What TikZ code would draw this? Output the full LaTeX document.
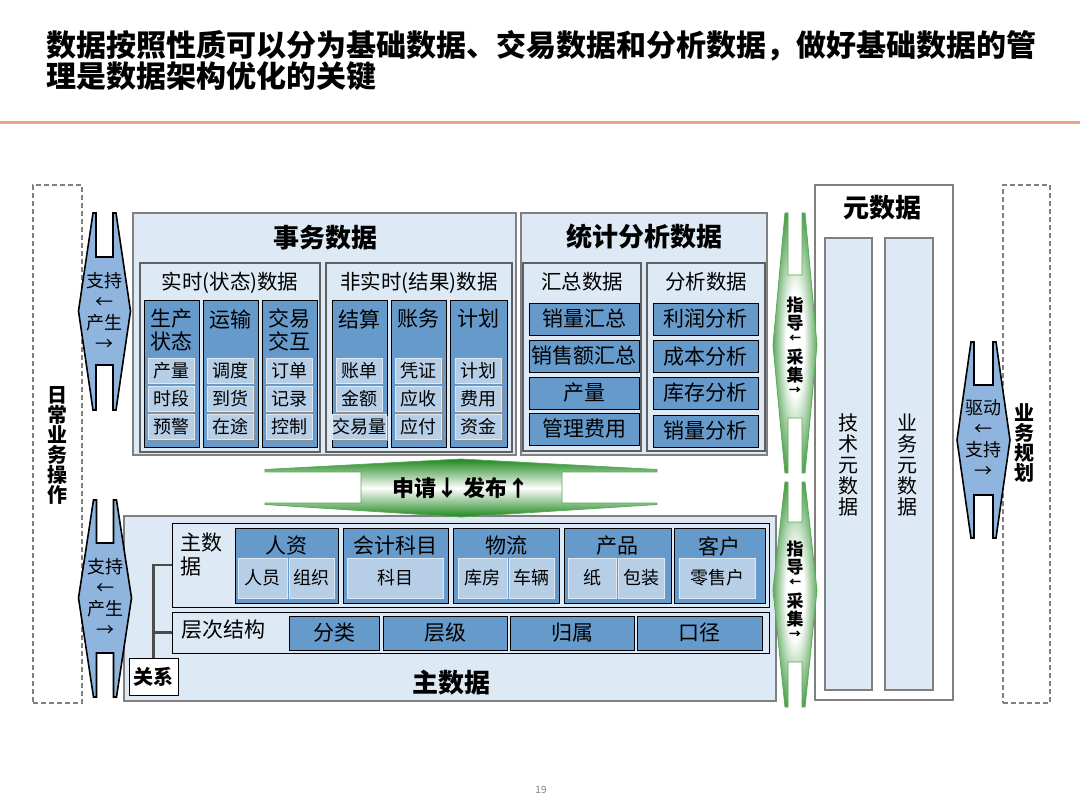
\documentclass[tikz,border=0pt]{standalone}
\usepackage{fontspec}
\setmainfont{Noto Sans CJK SC}
\usetikzlibrary{shadows}

\definecolor{paleblue}{RGB}{221,233,245}
\definecolor{midblue}{RGB}{101,154,203}
\definecolor{lightblue}{RGB}{182,206,230}
\definecolor{arrowblue}{RGB}{143,181,222}
\definecolor{arrowgreen}{RGB}{30,135,30}
\definecolor{linegreen}{RGB}{90,170,90}
\definecolor{boxgray}{RGB}{128,128,128}
\definecolor{rulecolor}{RGB}{242,163,135}

\newcommand{\fsz}[1]{\fontsize{#1}{#1}\selectfont}

% soft glow for the vertical green arrows
\pgfdeclareradialshading{greenglow}{\pgfpoint{0bp}{0bp}}{color(0bp)=(white); color(10bp)=(white); color(31bp)=(arrowgreen); color(50bp)=(arrowgreen)}

% notched double arrow: style, cx, top, notch1, mid, notch2, bottom, half width, notch half width
\newcommand{\vnotch}[9]{\draw[#1] (#2-#9-3,#3) -- (#2-#8,#5) -- (#2-#9-3,#7) -- (#2-#9,#7) -- (#2-#9,#6) -- (#2+#9,#6) -- (#2+#9,#7) -- (#2+#9+3,#7) -- (#2+#8,#5) -- (#2+#9+3,#3) -- (#2+#9,#3) -- (#2+#9,#4) -- (#2-#9,#4) -- (#2-#9,#3) -- cycle;}

\tikzset{
  wh/.style 2 args={minimum width=#1pt,minimum height=#2pt},
  outerbox/.style={draw=boxgray,line width=1.6pt,fill=paleblue,inner sep=0pt},
  groupbox/.style={draw=gray!75!black,line width=1.2pt,fill=paleblue,inner sep=0pt},
  innerbox/.style={draw=black,line width=0.9pt,fill=paleblue,inner sep=0pt},
  colbox/.style={draw=black,line width=0.9pt,fill=midblue,inner sep=0pt},
  itembox/.style={colbox,font=\fsz{21}},
  subbox/.style={fill=lightblue,draw=white!55!lightblue,line width=0.8pt,inner sep=0pt,font=\fsz{18},
    drop shadow={shadow xshift=1.3pt,shadow yshift=-1.3pt,fill=black!45,opacity=1}},
  dashbox/.style={draw=boxgray,line width=1.3pt,dash pattern=on 5pt off 3pt},
  bluearrow/.style={fill=arrowblue,draw=black,line width=1.6pt},
  greenv/.style={shading=greenglow,draw=linegreen,line width=0.8pt},
  greenh/.style={top color=arrowgreen,bottom color=arrowgreen,middle color=white,draw=linegreen,line width=0.8pt},
  heading/.style={font=\bfseries\fsz{26}},
  grouptitle/.style={font=\fsz{20.5}},
  vtext/.style={align=center,inner sep=0pt},
  linkline/.style={draw=black!70,line width=2.2pt}
}

\begin{document}
\begin{tikzpicture}[x=1pt,y=-1pt]

\fill[white] (0,0) rectangle (1080,810);
\useasboundingbox (0,0) rectangle (1080,810);

% Title
\node[anchor=west,font=\bfseries\fsz{30}] (title1) at (43,46) {数据按照性质可以分为基础数据、交易数据和分析数据，做好基础数据的管};
\node[anchor=west,font=\bfseries\fsz{30}] (title2) at (43,76) {理是数据架构优化的关键};
\draw[rulecolor,line width=2.5pt] (0,122.5) -- (1080,122.5);

% Side frames
\node[dashbox,wh={49}{518}] (daily) at (57.5,444) {};
\node[vtext,font=\bfseries\fsz{20}] (dailytext) at (57,445) {日\\常\\业\\务\\操\\作};
\node[dashbox,wh={47}{518}] (plan) at (1026.5,444) {};
\node[vtext,font=\bfseries\fsz{20}] (plantext) at (1024,443) {业\\务\\规\\划};

% Transaction data
\node[outerbox,wh={383}{242}] (trans) at (324.5,334) {};
\node[heading] (transtitle) at (325,238) {事务数据};
\node[groupbox,wh={180}{189}] (realtime) at (230,357.5) {};
\node[grouptitle] (realtimetitle) at (230,283) {实时(状态)数据};
\node[groupbox,wh={186}{189}] (result) at (419,357.5) {};
\node[grouptitle] (resulttitle) at (419,283) {非实时(结果)数据};

\node[colbox,wh={55}{147}] (prodcol) at (171.5,373.5) {};
\node[colbox,wh={55}{147}] (transcol) at (230.5,373.5) {};
\node[colbox,wh={55}{147}] (tradecol) at (289.5,373.5) {};
\node[colbox,wh={55}{147}] (settlecol) at (359.5,373.5) {};
\node[colbox,wh={55}{147}] (acctcol) at (418.5,373.5) {};
\node[colbox,wh={57}{147}] (plancol) at (478.5,373.5) {};

\node[vtext,font=\fontsize{21}{23}\selectfont] (prodtext) at (171.5,330) {生产\\状态};
\node[font=\fsz{21}] (transtext) at (230.5,320) {运输};
\node[vtext,font=\fontsize{21}{23}\selectfont] (tradetext) at (289.5,330) {交易\\交互};
\node[font=\fsz{21}] (settletext) at (359.5,319) {结算};
\node[font=\fsz{21}] (accttext) at (418.5,319) {账务};
\node[font=\fsz{21}] (plantitle) at (478.5,319) {计划};

\node[subbox,wh={46}{25}] (output) at (171.5,370.5) {产量};
\node[subbox,wh={46}{25}] (period) at (171.5,399) {时段};
\node[subbox,wh={46}{25}] (alarm) at (171.5,427) {预警};
\node[subbox,wh={46}{25}] (dispatch) at (230.5,370.5) {调度};
\node[subbox,wh={46}{25}] (arrival) at (230.5,399) {到货};
\node[subbox,wh={46}{25}] (transit) at (230.5,427) {在途};
\node[subbox,wh={46}{25}] (order) at (289.5,370.5) {订单};
\node[subbox,wh={46}{25}] (record) at (289.5,399) {记录};
\node[subbox,wh={46}{25}] (control) at (289.5,427) {控制};
\node[subbox,wh={46}{25}] (bill) at (359.5,370.5) {账单};
\node[subbox,wh={46}{25}] (amount) at (359.5,399) {金额};
\node[subbox,wh={46}{25}] (volume) at (359.5,427) {交易量};
\node[subbox,wh={46}{25}] (voucher) at (418.5,370.5) {凭证};
\node[subbox,wh={46}{25}] (receive) at (418.5,399) {应收};
\node[subbox,wh={46}{25}] (payable) at (418.5,427) {应付};
\node[subbox,wh={46}{25}] (budget) at (478.5,370.5) {计划};
\node[subbox,wh={46}{25}] (expense) at (478.5,399) {费用};
\node[subbox,wh={46}{25}] (fund) at (478.5,427) {资金};

% Statistical analysis data
\node[outerbox,wh={246}{242}] (stat) at (644,334) {};
\node[heading] (stattitle) at (644,237) {统计分析数据};
\node[groupbox,wh={118}{188}] (summary) at (582,357) {};
\node[grouptitle] (summarytitle) at (582,282) {汇总数据};
\node[groupbox,wh={118}{188}] (analysis) at (706,357) {};
\node[grouptitle] (analysistitle) at (706,282) {分析数据};

\node[itembox,wh={110}{32}] (salessum) at (584,319) {销量汇总};
\node[itembox,wh={110}{32}] (revenuesum) at (584,356) {销售额汇总};
\node[itembox,wh={110}{32}] (outputsum) at (584,393) {产量};
\node[itembox,wh={110}{32}] (costsum) at (584,429) {管理费用};
\node[itembox,wh={105}{32}] (profit) at (705.5,319) {利润分析};
\node[itembox,wh={105}{32}] (cost) at (705.5,356.5) {成本分析};
\node[itembox,wh={105}{32}] (stock) at (705.5,393) {库存分析};
\node[itembox,wh={105}{32}] (sales) at (705.5,431) {销量分析};

% Master data
\node[outerbox,wh={652}{185}] (master) at (450,608.5) {};
\node[heading] (mastertitle) at (451,683) {主数据};
\node[innerbox,wh={597}{84}] (mdbox) at (470.5,565) {};
\node[innerbox,wh={597}{41}] (levelbox) at (470.5,632.5) {};
\node[anchor=west,align=left,inner sep=0pt,font=\fontsize{21}{24}\selectfont] (mdtitle) at (180,555) {主数\\据};
\node[anchor=west,inner sep=0pt,font=\fsz{21}] (leveltitle) at (181,630) {层次结构};

\node[colbox,wh={103}{75}] (hr) at (286.5,565.5) {};
\node[colbox,wh={105}{75}] (ledger) at (395.5,565.5) {};
\node[colbox,wh={106}{75}] (logistics) at (506,565.5) {};
\node[colbox,wh={107}{75}] (product) at (617.5,565.5) {};
\node[colbox,wh={91}{75}] (customer) at (719.5,565.5) {};
\node[font=\fsz{21}] (hrtext) at (286.5,546) {人资};
\node[font=\fsz{21}] (ledgertext) at (395.5,546) {会计科目};
\node[font=\fsz{21}] (logisticstext) at (506,546) {物流};
\node[font=\fsz{21}] (producttext) at (617.5,546) {产品};
\node[font=\fsz{21}] (customertext) at (719.5,546) {客户};

\node[subbox,wh={49}{40}] (staff) at (262.5,578) {人员};
\node[subbox,wh={45}{40}] (org) at (311.5,578) {组织};
\node[subbox,wh={96}{40}] (subject) at (395,578) {科目};
\node[subbox,wh={49}{40}] (warehouse) at (482.5,578) {库房};
\node[subbox,wh={45}{40}] (vehicle) at (531.5,578) {车辆};
\node[subbox,wh={48}{40}] (paper) at (592,578) {纸};
\node[subbox,wh={46}{40}] (package) at (641,578) {包装};
\node[subbox,wh={76}{40}] (retailer) at (717,578) {零售户};

\node[itembox,wh={90}{34}] (category) at (334,633) {分类};
\node[itembox,wh={124}{34}] (level) at (445,633) {层级};
\node[itembox,wh={124}{34}] (belong) at (572,633) {归属};
\node[itembox,wh={125}{34}] (scope) at (699.5,633) {口径};

\node[draw=black,line width=0.9pt,fill=white,inner sep=0pt,wh={49}{37},font=\bfseries\fsz{20}] (relation) at (153.5,676.5) {关系};
\draw[linkline] (relation.north) |- (mdbox.west);
\draw[linkline] (relation.north |- levelbox.west) -- (levelbox.west);

% Metadata
\node[draw=boxgray,line width=1.6pt,fill=white,wh={138}{515}] (meta) at (884,442.5) {};
\node[heading] (metatitle) at (882,208) {元数据};
\node[draw=boxgray,line width=1.3pt,fill=paleblue,wh={47}{452}] (techmeta) at (848.5,464) {};
\node[draw=boxgray,line width=1.3pt,fill=paleblue,wh={48}{452}] (bizmeta) at (909,464) {};
\node[vtext,font=\fontsize{20}{21}\selectfont] (techtext) at (848.5,465) {技\\术\\元\\数\\据};
\node[vtext,font=\fontsize{20}{21}\selectfont] (biztext) at (907,465) {业\\务\\元\\数\\据};

% Flow arrows
\vnotch{bluearrow}{104.5}{213}{257}{311}{365}{410}{26}{8.5}
\vnotch{bluearrow}{105}{500}{543}{598}{653}{697}{26.5}{8.5}
\vnotch{bluearrow}{983.5}{342}{385}{440}{495}{538}{26.5}{9.5}
\vnotch{greenv}{795}{213}{275}{345}{418}{473}{22}{7}
\vnotch{greenv}{795}{482}{522}{590}{662}{707}{22}{7}
\draw[greenh] (265,469.5) -- (461,459) -- (657,469.5) -- (657,472) -- (562,472) -- (562,503) -- (657,503) -- (657,504.5) -- (461,517) -- (265,504.5) -- (265,503) -- (361,503) -- (361,472) -- (265,472) -- cycle;

\node[vtext,font=\fontsize{18}{21}\selectfont] (support1) at (104.5,311) {支持\\←\\产生\\→};
\node[vtext,font=\fontsize{18}{21}\selectfont] (support2) at (105,597) {支持\\←\\产生\\→};
\node[vtext,font=\fontsize{18}{21}\selectfont] (drive) at (983.5,439) {驱动\\←\\支持\\→};
\node[vtext,font=\bfseries\fontsize{17}{18}\selectfont] (guide1) at (795,346) {指\\导\\[-5pt]{\fsz{12}←}\\[3pt]采\\集\\[-5pt]{\fsz{12}→}};
\node[vtext,font=\bfseries\fontsize{17}{18}\selectfont] (guide2) at (795,590) {指\\导\\[-5pt]{\fsz{12}←}\\[3pt]采\\集\\[-5pt]{\fsz{12}→}};
\node[font=\bfseries\fsz{22}] (apply) at (461,488) {申请↓ 发布↑};

\node[font=\fsz{10},text=gray] (pagenum) at (541,790) {19};
\end{tikzpicture}
\end{document}
